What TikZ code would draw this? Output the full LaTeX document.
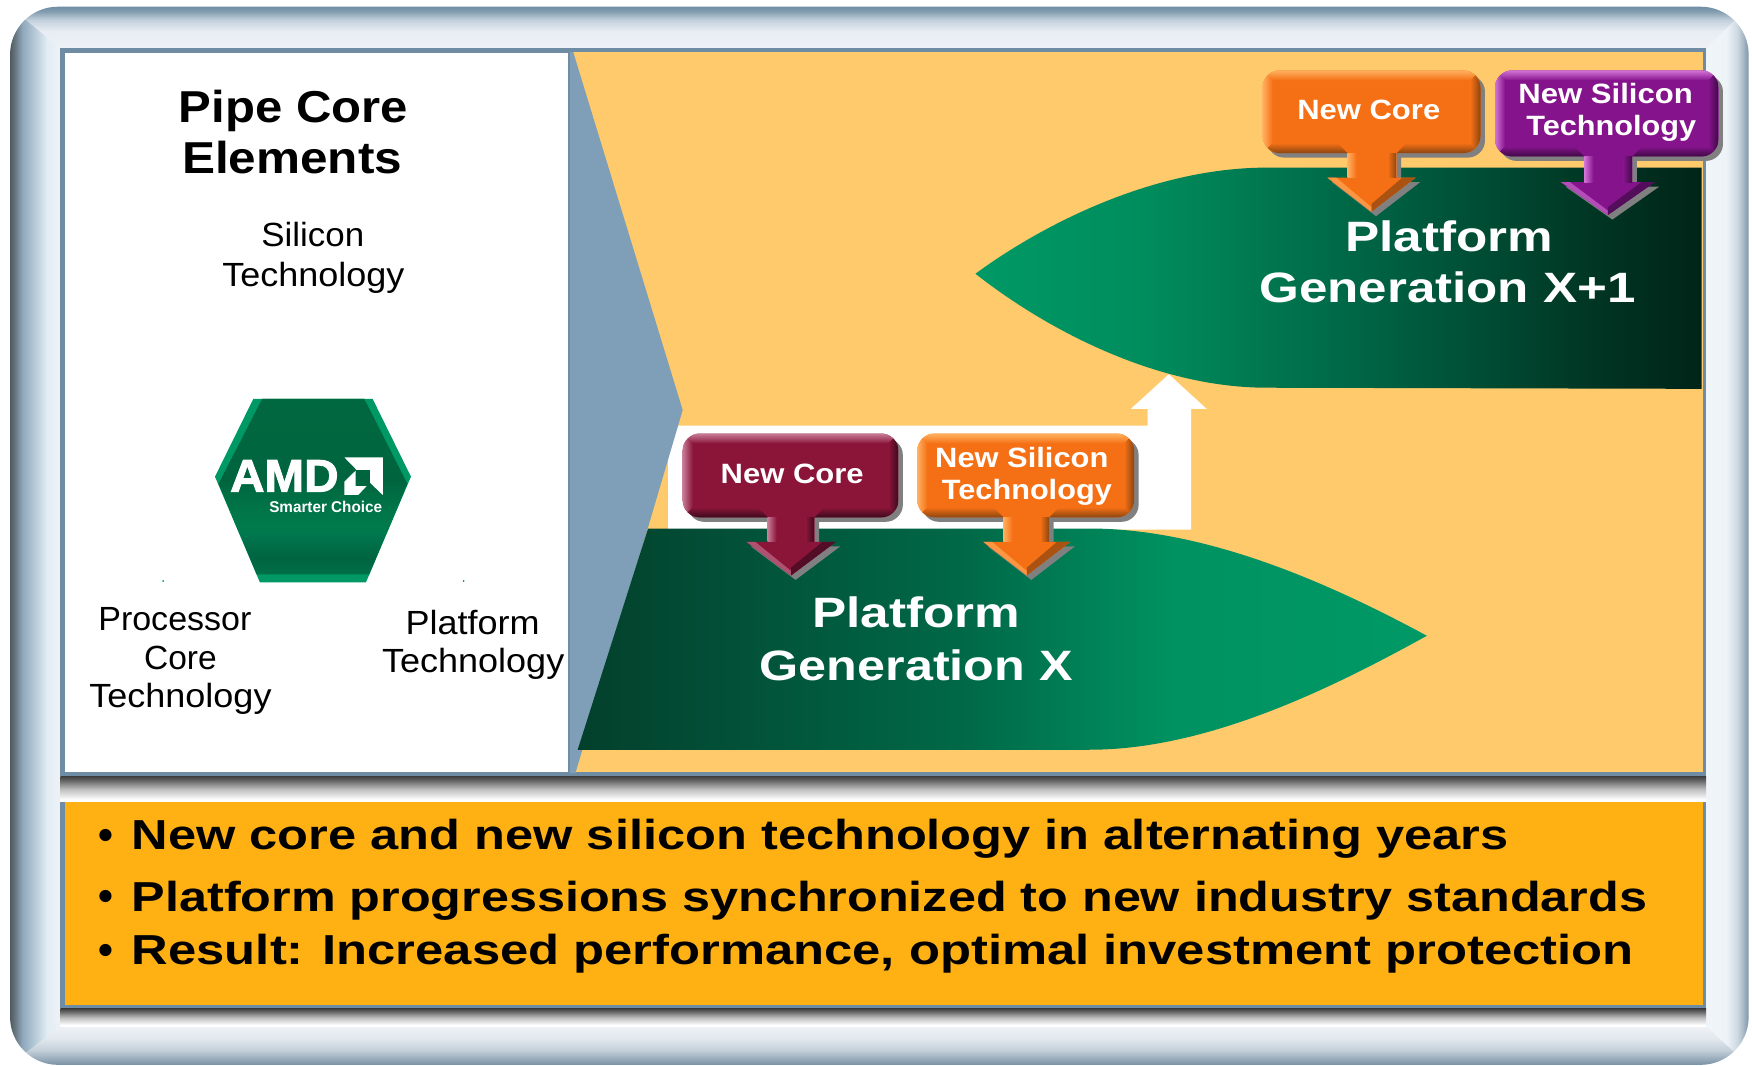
\documentclass[tikz,border=0pt]{standalone}
\usepackage{fontspec}
\usepackage{graphicx}
\setmainfont{Liberation Sans}
\newfontfamily\amdfont[UprightFont={* Bold},UprightFeatures={FakeBold=2}]{Liberation Sans}
\newdimen\vpx \vpx=0.55867pt
\newcommand\fs[1]{\fontsize{\the\dimexpr #1\vpx\relax}{\the\dimexpr #1\vpx\relax}\selectfont}
\newcommand\ft[3]{\resizebox{#2\vpx}{\height}{\fs{#1}#3}}
\definecolor{rimc}{HTML}{6F8CA5}
\definecolor{chevc}{HTML}{7F9FB8}
\definecolor{sandc}{HTML}{FFCA6C}
\definecolor{goldc}{HTML}{FFB114}
\definecolor{basec}{RGB}{238,242,247}
\definecolor{hexl}{RGB}{0,153,102}
\definecolor{shadowc}{RGB}{128,128,128}
\definecolor{marF}{HTML}{8B1538}\definecolor{marL}{HTML}{C77B98}\definecolor{marD}{HTML}{3C0A1E}
\definecolor{oraF}{HTML}{F57015}\definecolor{oraL}{HTML}{FFB060}\definecolor{oraD}{HTML}{8A4511}
\definecolor{purF}{HTML}{85148C}\definecolor{purL}{HTML}{D373D6}\definecolor{purD}{HTML}{3E0A44}
\pgfdeclarehorizontalshading{frameleft}{100bp}{rgb(0bp)=(.306,.353,.373); rgb(25bp)=(.306,.353,.373); rgb(29.4bp)=(.392,.451,.490); rgb(37.2bp)=(.561,.659,.737); rgb(51.7bp)=(.745,.816,.863); rgb(61.7bp)=(.882,.929,.953); rgb(75bp)=(.933,.949,.969); rgb(100bp)=(.933,.949,.969)}
\pgfdeclarehorizontalshading{frameright}{100bp}{rgb(0bp)=(.941,.961,.980); rgb(25bp)=(.941,.961,.980); rgb(48.7bp)=(.933,.953,.973); rgb(61.8bp)=(.804,.847,.882); rgb(69.7bp)=(.627,.698,.757); rgb(75bp)=(.490,.580,.659); rgb(100bp)=(.490,.580,.659)}
\pgfdeclareverticalshading{frametop}{100bp}{rgb(0bp)=(.933,.949,.969); rgb(25bp)=(.933,.949,.969); rgb(45.3bp)=(.910,.929,.953); rgb(58.8bp)=(.765,.816,.863); rgb(69.6bp)=(.510,.608,.686); rgb(75bp)=(.439,.557,.647); rgb(100bp)=(.439,.557,.647)}
\pgfdeclareverticalshading{framebottom}{100bp}{rgb(0bp)=(.471,.569,.647); rgb(25bp)=(.471,.569,.647); rgb(32.4bp)=(.588,.667,.725); rgb(44bp)=(.765,.812,.851); rgb(58.8bp)=(.882,.906,.929); rgb(75bp)=(.933,.945,.961); rgb(100bp)=(.933,.945,.961)}
\pgfdeclareverticalshading{dropshade}{100bp}{rgb(0bp)=(1,1,1); rgb(30bp)=(1,1,1); rgb(50bp)=(.745,.745,.745); rgb(65bp)=(.431,.431,.431); rgb(75bp)=(.235,.235,.235); rgb(100bp)=(.235,.235,.235)}
\pgfdeclarehorizontalshading{platx}{100bp}{rgb(0bp)=(.012,.251,.173); rgb(25bp)=(.012,.251,.173); rgb(48bp)=(0,.412,.282); rgb(60bp)=(0,.573,.380); rgb(75bp)=(0,.6,.4); rgb(100bp)=(0,.6,.4)}
\pgfdeclarehorizontalshading{platy}{100bp}{rgb(0bp)=(0,.6,.4); rgb(25bp)=(0,.6,.4); rgb(37bp)=(0,.549,.361); rgb(52bp)=(0,.392,.267); rgb(68bp)=(0,.204,.137); rgb(75bp)=(0,.141,.094); rgb(100bp)=(0,.141,.094)}
\pgfdeclareverticalshading{hexbody}{100bp}{rgb(0bp)=(0,.439,.282); rgb(25bp)=(0,.439,.282); rgb(29.5bp)=(0,.392,.255); rgb(39bp)=(0,.49,.322); rgb(50.8bp)=(0,.549,.361); rgb(75bp)=(0,.6,.392); rgb(100bp)=(0,.6,.392)}
\tikzset{
  txt/.style={inner sep=0pt,outer sep=0pt,anchor=base west},
  wtxt/.style={txt,text=white},
}
% callout: x0,x1,y0,y1 ; s0,s1,hl,hr ; hy,tipy ; uses cF,cL,cD
\def\callout(#1,#2,#3,#4)(#5,#6,#7,#8)(#9){%
  \def\xa{#1}\def\xb{#2}\def\ya{#3}\def\yb{#4}\def\sa{#5}\def\sb{#6}\def\hl{#7}\def\hr{#8}%
  \calloutrest(#9)}
\def\calloutrest(#1,#2){%
  \def\hy{#1}\def\ty{#2}%
  \pgfmathsetmacro\tx{(\hl+\hr)/2}%
  \def\shp{({\xa+15},\ya) -- ({\xb-15},\ya) .. controls ({\xb-7},\ya) and (\xb,{\ya+7}) .. (\xb,{\ya+15}) -- (\xb,{\yb-15}) .. controls (\xb,{\yb-7}) and ({\xb-7},\yb) .. ({\xb-15},\yb) -- (\sb,\yb) -- (\sb,\hy) -- (\hr,\hy) -- (\tx,\ty) -- (\hl,\hy) -- (\sa,\hy) -- (\sa,\yb) -- ({\xa+15},\yb) .. controls ({\xa+7},\yb) and (\xa,{\yb-7}) .. (\xa,{\yb-15}) -- (\xa,{\ya+15}) .. controls (\xa,{\ya+7}) and ({\xa+7},\ya) .. ({\xa+15},\ya) -- cycle}%
  \fill[shadowc,shift={(4,4)}] \shp;
  \fill[cF] \shp;
  \begin{scope}
    \clip \shp;
    \shade[top color=cL,bottom color=cF] (\xa,\ya) -- (\xb,\ya) -- ({\xb-9},{\ya+9}) -- ({\xa+9},{\ya+9}) -- cycle;
    \shade[left color=cL,right color=cF] (\xa,\ya) -- ({\xa+9},{\ya+9}) -- ({\xa+9},{\yb-9}) -- (\xa,\yb) -- cycle;
    \shade[left color=cF,right color=cD] (\xb,\ya) -- ({\xb-9},{\ya+9}) -- ({\xb-9},{\yb-9}) -- (\xb,\yb) -- cycle;
    \shade[top color=cF,bottom color=cD] (\xa,\yb) -- ({\xa+9},{\yb-9}) -- ({\sa-9},{\yb-9}) -- (\sa,\yb) -- cycle;
    \shade[top color=cF,bottom color=cD] (\sb,\yb) -- ({\sb+9},{\yb-9}) -- ({\xb-9},{\yb-9}) -- (\xb,\yb) -- cycle;
    \shade[left color=cL,right color=cF] (\sa,\yb) rectangle ({\sa+8},\hy);
    \shade[left color=cF,right color=cD] ({\sb-8},\yb) rectangle (\sb,\hy);
    \fill[cL!60!cF] (\hl,\hy) -- (\tx,\ty) -- (\tx,{\ty-4}) -- ({\hl+8},\hy) -- cycle;
    \fill[cD!70!cF] (\hr,\hy) -- (\tx,\ty) -- (\tx,{\ty-7}) -- ({\hr-12},\hy) -- cycle;
  \end{scope}
}
\begin{document}
\begin{tikzpicture}[x=0.55867pt,y=-0.55867pt]
\useasboundingbox (0,0) rectangle (1568,954);
% outer bevelled frame
\begin{scope}
  \clip[rounded corners=24] (9,6) rectangle (1565,953);
  \fill[basec] (9,6) rectangle (1565,953);
  \shade[shading=frameleft] (9,6) -- (54,43) -- (54,919) -- (9,953) -- cycle;
  \shade[shading=frameright] (1565,6) -- (1527,43) -- (1527,919) -- (1565,953) -- cycle;
  \shade[shading=frametop] (9,6) -- (1565,6) -- (1527,43) -- (54,43) -- cycle;
  \shade[shading=framebottom] (9,953) -- (54,919) -- (1527,919) -- (1565,953) -- cycle;
\end{scope}
% upper panel
\fill[rimc] (54,43) rectangle (1527,694.5);
\fill[white] (58,47) rectangle (508,691);
\fill[sandc] (512,46.5) rectangle (1524,691);
% drop shadows / strips
\shade[shading=dropshade] (54,694.5) rectangle (1527,718);
\shade[shading=dropshade] (54,902.5) rectangle (1527,919);
% lower panel
\fill[rimc] (54,718) rectangle (1527,902.5);
\fill[goldc] (58,718) rectangle (1524,899);
% white step arrow
\fill[white] (598,381) -- (1027,381) -- (1027,366) -- (1012,366) -- (1046,335) -- (1080,366) -- (1066,366) -- (1066,474) -- (598,474) -- cycle;
% chevron
\fill[chevc] (510,46.5) -- (513,46.5) -- (611,367) -- (515,692) -- (510,692) -- cycle;
% platform shapes
\shade[shading=platx] (580,473) -- (975,473) .. controls (1080,473) and (1190,522) .. (1277,569) .. controls (1190,617) and (1080,671) .. (975,671) -- (517,671) -- cycle;
\shade[shading=platy] (1523,150) -- (1134,150) .. controls (1030,150) and (930,203) .. (873,245) .. controls (930,290) and (1030,347) .. (1134,347) -- (1523,348) -- cycle;
% callouts
\colorlet{cF}{marF}\colorlet{cL}{marL}\colorlet{cD}{marD}
\callout(611,804,388,463)(687,729,668,748)(485,515)
\colorlet{cF}{oraF}\colorlet{cL}{oraL}\colorlet{cD}{oraD}
\callout(821,1015,388,463)(898,939,880,958)(485,515)
\callout(1130,1325,63,137)(1206,1250,1188,1267)(159,189.5)
\colorlet{cF}{purF}\colorlet{cL}{purL}\colorlet{cD}{purD}
\callout(1338,1538,63,140)(1418,1461,1397,1481)(163,192.5)
% callout labels
\node[wtxt] (c1) at (645,433) {\ft{25}{128}{\bfseries New Core}};
\node[wtxt] (c2a) at (837,418) {\ft{25}{155}{\bfseries New Silicon}};
\node[wtxt] (c2b) at (843,447) {\ft{25}{152}{\bfseries Technology}};
\node[wtxt] (c3) at (1161,107) {\ft{25}{128}{\bfseries New Core}};
\node[wtxt] (c4a) at (1359,93) {\ft{25}{156}{\bfseries New Silicon}};
\node[wtxt] (c4b) at (1366,121) {\ft{25}{152}{\bfseries Technology}};
% platform labels
\node[wtxt] (p1a) at (727,562) {\ft{38}{186}{\bfseries Platform}};
\node[wtxt] (p1b) at (680,609) {\ft{38}{280}{\bfseries Generation X}};
\node[wtxt] (p2a) at (1204,225) {\ft{38}{186}{\bfseries Platform}};
\node[wtxt] (p2b) at (1127,271) {\ft{38}{337}{\bfseries Generation X+1}};
% left panel text
\node[txt] (t1) at (160,110) {\ft{40}{205}{\bfseries Pipe Core}};
\node[txt] (t2) at (163,155) {\ft{40}{197}{\bfseries Elements}};
\node[txt] (s1) at (234,221) {\ft{30}{92}{Silicon}};
\node[txt] (s2) at (199,256) {\ft{30}{163}{Technology}};
\node[txt] (o1) at (88,564) {\ft{30}{137}{Processor}};
\node[txt] (o2) at (129,599) {\ft{30}{65}{Core}};
\node[txt] (o3) at (80,633) {\ft{30}{163}{Technology}};
\node[txt] (f1) at (363,568) {\ft{30}{120}{Platform}};
\node[txt] (f2) at (342,602) {\ft{30}{163}{Technology}};
% tiny specks
\fill[hexl] (146,520) circle (0.9);
\fill[hexl] (415,520) circle (0.9);
% logo
\fill[hexl] (226.7,357) -- (333.5,357) -- (367.8,426.6) -- (327.5,521.2) -- (232.6,521.2) -- (192.4,426.6) -- cycle;
\shade[shading=hexbody] (234.7,357) -- (326,357) -- (364.5,433) -- (330.5,514) -- (229.7,514) -- (195.7,433) -- cycle;
\begin{scope}
  \clip (234.7,357) -- (326,357) -- (364.5,433) -- (330.5,514) -- (229.7,514) -- (195.7,433) -- cycle;
  \foreach \yy in {357,360,...,474} {
    \pgfmathsetmacro\hexg{\yy<433 ? 153-(\yy-357)*13/76 : 140-(\yy-433)*15/37}
    \pgfmathsetmacro\hext{min(1,(475-\yy)/45)*0.75}
    \pgfmathtruncatemacro\hma{\hexg}
    \pgfmathtruncatemacro\hmb{\hexg*0.66}
    \pgfmathtruncatemacro\hea{\hexg*(1-\hext)+88*\hext}
    \pgfmathtruncatemacro\heb{(\hexg*(1-\hext)+88*\hext)*0.62}
    \definecolor{hexm}{RGB}{0,\hma,\hmb}
    \definecolor{hexe}{RGB}{0,\hea,\heb}
    \shade[left color=hexe,middle color=hexm,right color=hexe] (195,\yy) rectangle (365,{\yy+3.6});
  }
\end{scope}
\node[wtxt] (amd) at (206,440) {\ft{41}{97}{\amdfont AMD}};
\fill[white] (308.2,409.3) -- (342.6,409.3) -- (342.6,443) -- (331.2,432.1) -- (331.2,420.6) -- (319.2,420.6) -- cycle;
\fill[white] (308.2,443) -- (308.2,431.1) -- (318.3,421.2) -- (318.3,435) -- (328.1,435) -- (320.6,443) -- cycle;
\node[wtxt] (smart) at (241,459) {\ft{14}{101}{\bfseries Smarter Choice}};
% lower text
\node[txt] (b1) at (88,760) {\fs{38}\bfseries •};
\node[txt] (b2) at (88,815) {\fs{38}\bfseries •};
\node[txt] (b3) at (88,863) {\fs{38}\bfseries •};
\node[txt] (l1) at (118,760) {\ft{37.5}{1232}{\bfseries New core and new silicon technology in alternating years}};
\node[txt] (l2) at (118,816) {\ft{37.5}{1356}{\bfseries Platform progressions synchronized to new industry standards}};
\node[txt] (l3) at (118,863) {\ft{37.5}{1344}{\bfseries Result: Increased performance, optimal investment protection}};
\end{tikzpicture}
\end{document}
